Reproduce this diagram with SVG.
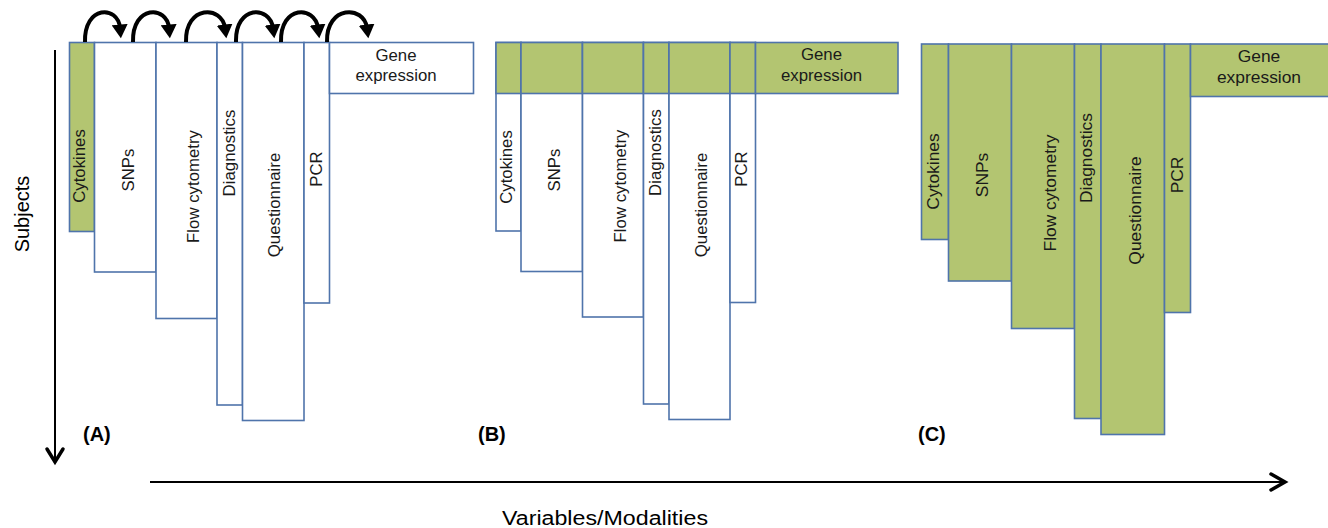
<svg xmlns="http://www.w3.org/2000/svg" width="1328" height="528" viewBox="0 0 1328 528">
<style>
.w{fill:#ffffff;stroke:#4f74ab;stroke-width:1.6}
.g{fill:#b3c571;stroke:#4f74ab;stroke-width:1.6}
.t{font-family:"Liberation Sans",Arial,sans-serif;font-size:16.8px;fill:#1a1a1a}
.tc{font-family:"Liberation Sans",Arial,sans-serif;font-size:17.4px;fill:#1a1a1a}
.lab{font-family:"Liberation Sans",Arial,sans-serif;font-size:20px;font-weight:bold;fill:#000}
.ax{font-family:"Liberation Sans",Arial,sans-serif;font-size:20px;fill:#000}
.axis{stroke:#000;stroke-width:2;fill:none}
.chev{stroke:#000;stroke-width:3.5;fill:none;stroke-linecap:round;stroke-linejoin:miter}
.arc{stroke:#000;stroke-width:4;fill:none;marker-end:url(#ah)}
</style>
<defs>
<marker id="ah" markerUnits="userSpaceOnUse" markerWidth="16" markerHeight="16" viewBox="0 0 14 14" refX="3" refY="7" orient="auto">
<path d="M0,0 L12,7 L0,14 Z" fill="#000"/>
</marker>
</defs>
<rect width="1328" height="528" fill="#ffffff"/>

<!-- Panel A -->
<g id="A-cytokines"><rect class="g" x="69.5" y="42.5" width="25" height="189"/><text class="t" text-anchor="middle" transform="translate(85,166) rotate(-90)">Cytokines</text></g>
<g id="A-snps"><rect class="w" x="94.5" y="42.5" width="61.5" height="229.5"/><text class="t" text-anchor="middle" transform="translate(133.5,170) rotate(-90)">SNPs</text></g>
<g id="A-flow"><rect class="w" x="156" y="42.5" width="61" height="276"/><text class="t" text-anchor="middle" transform="translate(198.5,186.5) rotate(-90)">Flow cytometry</text></g>
<g id="A-diagnostics"><rect class="w" x="217" y="42.5" width="25.5" height="362.5"/><text class="t" text-anchor="middle" transform="translate(234.5,153) rotate(-90)">Diagnostics</text></g>
<g id="A-questionnaire"><rect class="w" x="242.5" y="42.5" width="61.5" height="378"/><text class="t" text-anchor="middle" transform="translate(280,205) rotate(-90)">Questionnaire</text></g>
<g id="A-pcr"><rect class="w" x="304" y="42.5" width="25.5" height="260.5"/><text class="t" text-anchor="middle" transform="translate(322,169) rotate(-90)">PCR</text></g>
<g id="A-gene"><rect class="w" x="329.5" y="42.5" width="144" height="51"/><text class="t" text-anchor="middle" x="396" y="61">Gene</text><text class="t" text-anchor="middle" x="396" y="81">expression</text></g>
<text class="lab" x="83" y="441">(A)</text>

<!-- Panel B -->
<g id="B-cytokines"><rect class="w" x="496" y="42.5" width="25" height="188.5"/><rect class="g" x="496" y="42.5" width="25" height="51"/><text class="t" text-anchor="middle" transform="translate(512,167) rotate(-90)">Cytokines</text></g>
<g id="B-snps"><rect class="w" x="521" y="42.5" width="61.5" height="229"/><rect class="g" x="521" y="42.5" width="61.5" height="51"/><text class="t" text-anchor="middle" transform="translate(559.5,170) rotate(-90)">SNPs</text></g>
<g id="B-flow"><rect class="w" x="582.5" y="42.5" width="61" height="274.5"/><rect class="g" x="582.5" y="42.5" width="61" height="51"/><text class="t" text-anchor="middle" transform="translate(625.5,186) rotate(-90)">Flow cytometry</text></g>
<g id="B-diagnostics"><rect class="w" x="643.5" y="42.5" width="25.5" height="361.5"/><rect class="g" x="643.5" y="42.5" width="25.5" height="51"/><text class="t" text-anchor="middle" transform="translate(660.5,152.5) rotate(-90)">Diagnostics</text></g>
<g id="B-questionnaire"><rect class="w" x="669" y="42.5" width="61" height="377"/><rect class="g" x="669" y="42.5" width="61" height="51"/><text class="t" text-anchor="middle" transform="translate(707,205) rotate(-90)">Questionnaire</text></g>
<g id="B-pcr"><rect class="w" x="730" y="42.5" width="25.5" height="260"/><rect class="g" x="730" y="42.5" width="25.5" height="51"/><text class="t" text-anchor="middle" transform="translate(747,169) rotate(-90)">PCR</text></g>
<g id="B-gene"><rect class="g" x="755.5" y="42.5" width="142.5" height="51"/><text class="t" text-anchor="middle" x="821.5" y="60">Gene</text><text class="t" text-anchor="middle" x="821.5" y="80.5">expression</text></g>
<text class="lab" x="478" y="441">(B)</text>

<!-- Panel C -->
<g id="C-cytokines"><rect class="g" x="921.5" y="44" width="27" height="195.5"/><text class="tc" text-anchor="middle" transform="translate(938.5,171.5) rotate(-90)">Cytokines</text></g>
<g id="C-snps"><rect class="g" x="948.5" y="44" width="63" height="237"/><text class="tc" text-anchor="middle" transform="translate(988,175) rotate(-90)">SNPs</text></g>
<g id="C-flow"><rect class="g" x="1011.5" y="44" width="63" height="284.5"/><text class="tc" text-anchor="middle" transform="translate(1056,193) rotate(-90)">Flow cytometry</text></g>
<g id="C-diagnostics"><rect class="g" x="1074.5" y="44" width="26.5" height="374.5"/><text class="tc" text-anchor="middle" transform="translate(1092,158) rotate(-90)">Diagnostics</text></g>
<g id="C-questionnaire"><rect class="g" x="1101" y="44" width="63.5" height="390.5"/><text class="tc" text-anchor="middle" transform="translate(1140.5,210.5) rotate(-90)">Questionnaire</text></g>
<g id="C-pcr"><rect class="g" x="1164.5" y="44" width="26" height="268.5"/><text class="tc" text-anchor="middle" transform="translate(1182.5,175) rotate(-90)">PCR</text></g>
<g id="C-gene"><rect class="g" x="1190.5" y="44" width="150" height="52.5"/><text class="tc" text-anchor="middle" x="1259" y="61.5">Gene</text><text class="tc" text-anchor="middle" x="1259" y="83">expression</text></g>
<text class="lab" x="918" y="441">(C)</text>

<!-- Connectors -->
<g id="connectors">
<path class="arc" d="M85,42 C84,5 118,5 120,28"/>
<path class="arc" d="M133,42 C132,5 167,5 169,28"/>
<path class="arc" d="M186,42 C185,5 222,5 225,28"/>
<path class="arc" d="M236,42 C235,5 270,5 273,28"/>
<path class="arc" d="M281,42 C280,5 315,5 318,28"/>
<path class="arc" d="M327,42 C326,5 364,5 367,28"/>
<line class="axis" x1="55" y1="50" x2="55" y2="461"/>
<polyline class="chev" points="47,449 55,462 63,449"/>
<line class="axis" x1="150" y1="482" x2="1284" y2="482"/>
<polyline class="chev" points="1271,474 1285,482 1271,490"/>
</g>
<text class="ax" text-anchor="middle" transform="translate(29,214) rotate(-90)">Subjects</text>
<text class="ax" x="502" y="525" textLength="206" lengthAdjust="spacingAndGlyphs">Variables/Modalities</text>
</svg>
